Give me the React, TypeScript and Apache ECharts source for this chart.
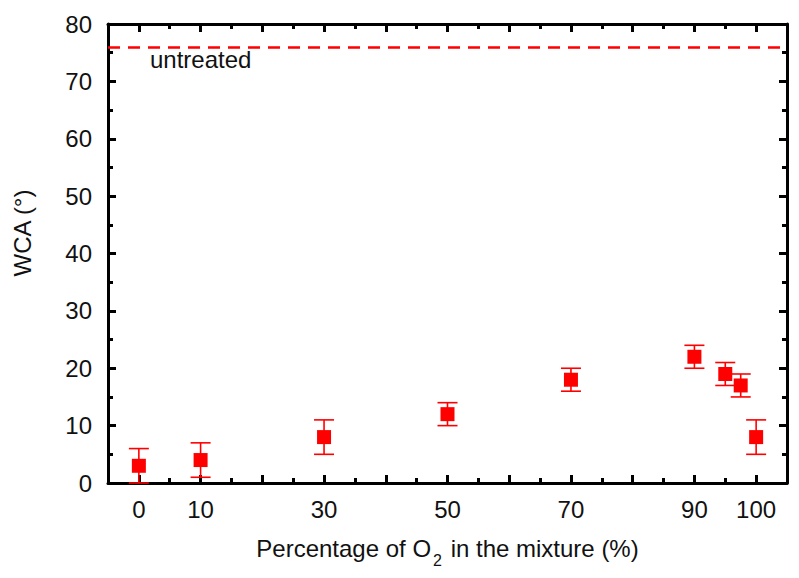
import React, { useEffect, useRef } from "react";
import * as echarts from "echarts";

const xValues = [0, 10, 30, 50, 70, 90, 95, 97.5, 100];
const wca = [3, 4, 8, 12, 18, 22, 19, 17, 8];
const wcaErr = [3, 3, 3, 2, 2, 2, 2, 2, 3];
const untreatedWCA = 76;
const xLabelValues = [0, 10, 30, 50, 70, 90, 100];
const xMajorTicks = [0, 10, 20, 30, 40, 50, 60, 70, 80, 90, 100];
const xMinorTicks = [5, 15, 25, 35, 45, 55, 65, 75, 85, 95];

const FONT = 'Arial, "Liberation Sans", sans-serif';
const RED = "#ff0000";
const FS = 24;

export default function App() {
  const ref = useRef<HTMLDivElement>(null);
  useEffect(() => {
    if (!ref.current) return;
    const chart = echarts.init(ref.current, null, { renderer: "svg" });
    const axisLine = { show: true, onZero: false, lineStyle: { color: "#000", width: 3 } };
    const baseX = { type: "value", min: -5, max: 105, splitLine: { show: false } };
    const majorTick = (vals: number[]) => ({
      show: true, inside: true, length: 8, customValues: vals,
      lineStyle: { color: "#000", width: 3 },
    });
    const minorTickAx = (vals: number[]) => ({
      show: true, inside: true, length: 5, customValues: vals,
      lineStyle: { color: "#000", width: 3 },
    });
    const yBase = {
      type: "value", min: 0, max: 80, interval: 10,
      axisLine,
      axisTick: { show: true, inside: true, length: 8, lineStyle: { color: "#000", width: 3 } },
      minorTick: { show: true, splitNumber: 2, length: 5, lineStyle: { color: "#000", width: 3 } },
      splitLine: { show: false },
    };
    const scatterData = xValues.map((x, i) => [x, wca[i]]);
    const errData = xValues.map((x, i) => [x, wca[i] - wcaErr[i], wca[i] + wcaErr[i]]);

    chart.setOption({
      animation: false,
      grid: { left: 108, top: 24, right: 12, bottom: 95 },
      xAxis: [
        {
          ...baseX, position: "bottom",
          axisLine,
          axisTick: majorTick(xMajorTicks),
          axisLabel: {
            customValues: xLabelValues, fontSize: FS, color: "#111", fontFamily: FONT, margin: 14,
          },
          name: "{a|Percentage of O}{s|2}{a| in the mixture (%)}",
          nameLocation: "middle",
          nameGap: 45,
          nameTextStyle: {
            rich: {
              a: { fontSize: FS, fontFamily: FONT, color: "#111" },
              s: { fontSize: 16, fontFamily: FONT, color: "#111", padding: [24, 2, 0, 2] },
            },
          },
        },
        {
          ...baseX, position: "bottom",
          axisLine: { show: false, onZero: false },
          axisTick: minorTickAx(xMinorTicks),
          axisLabel: { show: false },
        },
        {
          ...baseX, position: "top",
          axisLine,
          axisTick: majorTick(xMajorTicks),
          axisLabel: { show: false },
        },
        {
          ...baseX, position: "top",
          axisLine: { show: false, onZero: false },
          axisTick: minorTickAx(xMinorTicks),
          axisLabel: { show: false },
        },
      ],
      yAxis: [
        {
          ...yBase, position: "left",
          axisLabel: { fontSize: FS, color: "#111", fontFamily: FONT, margin: 16 },
        },
        {
          ...yBase, position: "right",
          axisLabel: { show: false },
        },
      ],
      series: [
        {
          type: "custom",
          xAxisIndex: 0,
          yAxisIndex: 0,
          data: errData,
          encode: { x: 0, y: [1, 2] },
          z: 2,
          renderItem: (_params: any, api: any) => {
            const x = api.value(0);
            const lo = api.coord([x, api.value(1)]);
            const hi = api.coord([x, api.value(2)]);
            const hw = 10;
            const style = { stroke: RED, lineWidth: 1.6, fill: null };
            return {
              type: "group",
              children: [
                { type: "line", shape: { x1: lo[0], y1: lo[1], x2: hi[0], y2: hi[1] }, style },
                { type: "line", shape: { x1: hi[0] - hw, y1: hi[1], x2: hi[0] + hw, y2: hi[1] }, style },
                { type: "line", shape: { x1: lo[0] - hw, y1: lo[1], x2: lo[0] + hw, y2: lo[1] }, style },
              ],
            };
          },
        },
        {
          type: "scatter",
          xAxisIndex: 0,
          yAxisIndex: 0,
          data: scatterData,
          symbol: "rect",
          symbolSize: 14,
          itemStyle: { color: RED, opacity: 1 },
          z: 3,
          markLine: {
            silent: true,
            symbol: ["none", "none"],
            label: { show: false },
            lineStyle: { color: RED, type: [12, 8], width: 2.5, opacity: 1 },
            data: [{ yAxis: untreatedWCA }],
          },
        },
      ],
      graphic: [
        {
          type: "text",
          left: 150,
          top: 47,
          style: { text: "untreated", fontSize: FS, fontFamily: FONT, fill: "#111" },
        },
        {
          type: "text",
          x: 22,
          y: 233,
          rotation: Math.PI / 2,
          style: {
            text: "WCA (°)", fontSize: FS, fontFamily: FONT, fill: "#111",
            align: "center", verticalAlign: "middle",
          },
        },
      ],
    });
    return () => chart.dispose();
  }, []);
  return (
    <div
      ref={ref}
      style={{ position: "fixed", left: 0, top: 0, width: 799, height: 578, background: "#fff" }}
    />
  );
}
